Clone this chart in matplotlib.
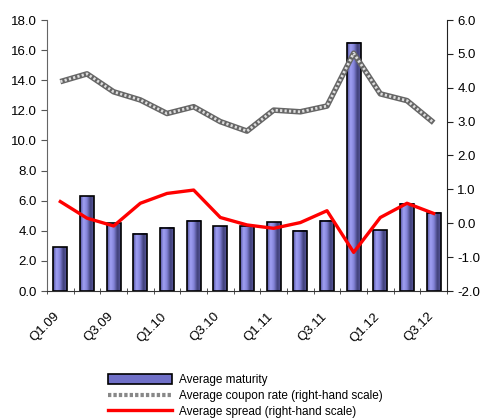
import numpy as np
import matplotlib
matplotlib.use("Agg")
import matplotlib.pyplot as plt
from matplotlib.colors import LinearSegmentedColormap
from matplotlib.patches import Patch
from matplotlib.lines import Line2D

quarters = ["Q1.09", "Q2.09", "Q3.09", "Q4.09", "Q1.10", "Q2.10", "Q3.10", "Q4.10",
            "Q1.11", "Q2.11", "Q3.11", "Q4.11", "Q1.12", "Q2.12", "Q3.12"]
maturity = [2.9, 6.3, 4.5, 3.8, 4.2, 4.65, 4.3, 4.3, 4.55, 4.0, 4.65, 16.5, 4.05, 5.8, 5.2]
coupon = [4.18, 4.41, 3.88, 3.64, 3.24, 3.44, 3.0, 2.72, 3.34, 3.29, 3.46, 5.02, 3.82, 3.62, 2.97]
spread = [0.64, 0.15, -0.08, 0.59, 0.88, 0.98, 0.17, -0.05, -0.15, 0.02, 0.37, -0.86, 0.17, 0.59, 0.29]
left_ticks = [0, 2, 4, 6, 8, 10, 12, 14, 16, 18]
right_ticks = [-2, -1, 0, 1, 2, 3, 4, 5, 6]

plt.rcParams['font.family'] = ['Liberation Sans', 'DejaVu Sans']

fig = plt.figure(figsize=(4.81, 4.19), dpi=100)
ax = fig.add_axes([47/481, 1-291/419, 400/481, 271/419])
x = np.arange(len(quarters))
w = 0.52

cmap = LinearSegmentedColormap.from_list(
    "barg", ["#50509a", "#a0a0f4", "#8282d8", "#40407a", "#5a5aa0"])
grad = np.linspace(0, 1, 64).reshape(1, -1)
for xi, h in zip(x, maturity):
    ax.imshow(grad, cmap=cmap, aspect='auto', extent=[xi - w/2, xi + w/2, 0, h],
              zorder=1.5, interpolation='bilinear')
ax.bar(x, maturity, width=w, facecolor='none', edgecolor='black', linewidth=1.2, zorder=2)

ax.set_xlim(-0.5, len(quarters) - 0.5)
ax.set_ylim(0, 18)
ax.set_yticks(left_ticks)
ax.set_yticklabels([f"{v:.1f}" for v in left_ticks])
# label anchors sit slightly left of the bar centres, as in the reference
ax.set_xticks(x[::2] - 0.25)
ax.set_xticklabels(quarters[::2], rotation=45, ha='right', va='top', rotation_mode='anchor')
ax.set_xticks(np.arange(-0.5, len(quarters), 1), minor=True)
ax.tick_params(axis='x', which='major', length=0, pad=14, labelsize=9.5)
ax.tick_params(axis='x', which='minor', length=4, direction='inout', color='#333333')
ax.tick_params(axis='y', length=4, direction='out', labelsize=9.5, color='#555555')
ax.spines['top'].set_visible(False)
ax.spines['right'].set_visible(False)
ax.spines['left'].set_color('#666666')
ax.spines['bottom'].set_color('#333333')

ax2 = ax.twinx()
ax2.set_ylim(-2, 6)
ax2.set_yticks(right_ticks)
ax2.set_yticklabels([f"{v:.1f}" for v in right_ticks])
ax2.tick_params(axis='y', length=4, direction='out', labelsize=9.5, color='#222222')
ax2.plot(x, coupon, color='#666666', lw=4.0, solid_capstyle='butt', zorder=3)
ax2.plot(x, coupon, color='#dddddd', lw=2.0, ls=(0, (0.8, 0.8)), zorder=4)
ax2.plot(x, spread, color='#ff0000', lw=2.4, zorder=5)
for s in ['top', 'left', 'bottom']:
    ax2.spines[s].set_visible(False)
ax2.spines['right'].set_color('#222222')

handles = [Patch(facecolor='#7070c8', edgecolor='black', linewidth=1.2),
           Line2D([], [], color='#888888', lw=3, ls=(0, (0.8, 0.5))),
           Line2D([], [], color='#ff0000', lw=2.4)]
labels = ["Average maturity", "Average coupon rate (right-hand scale)",
          "Average spread (right-hand scale)"]
fig.legend(handles, labels, loc='center left', bbox_to_anchor=(108/481, 1-396/419),
           frameon=False, fontsize=8.5, handlelength=5.4, handleheight=0.9,
           handletextpad=0.6, labelspacing=0.3, borderpad=0, borderaxespad=0)

fig.savefig("out.png", dpi=100)
